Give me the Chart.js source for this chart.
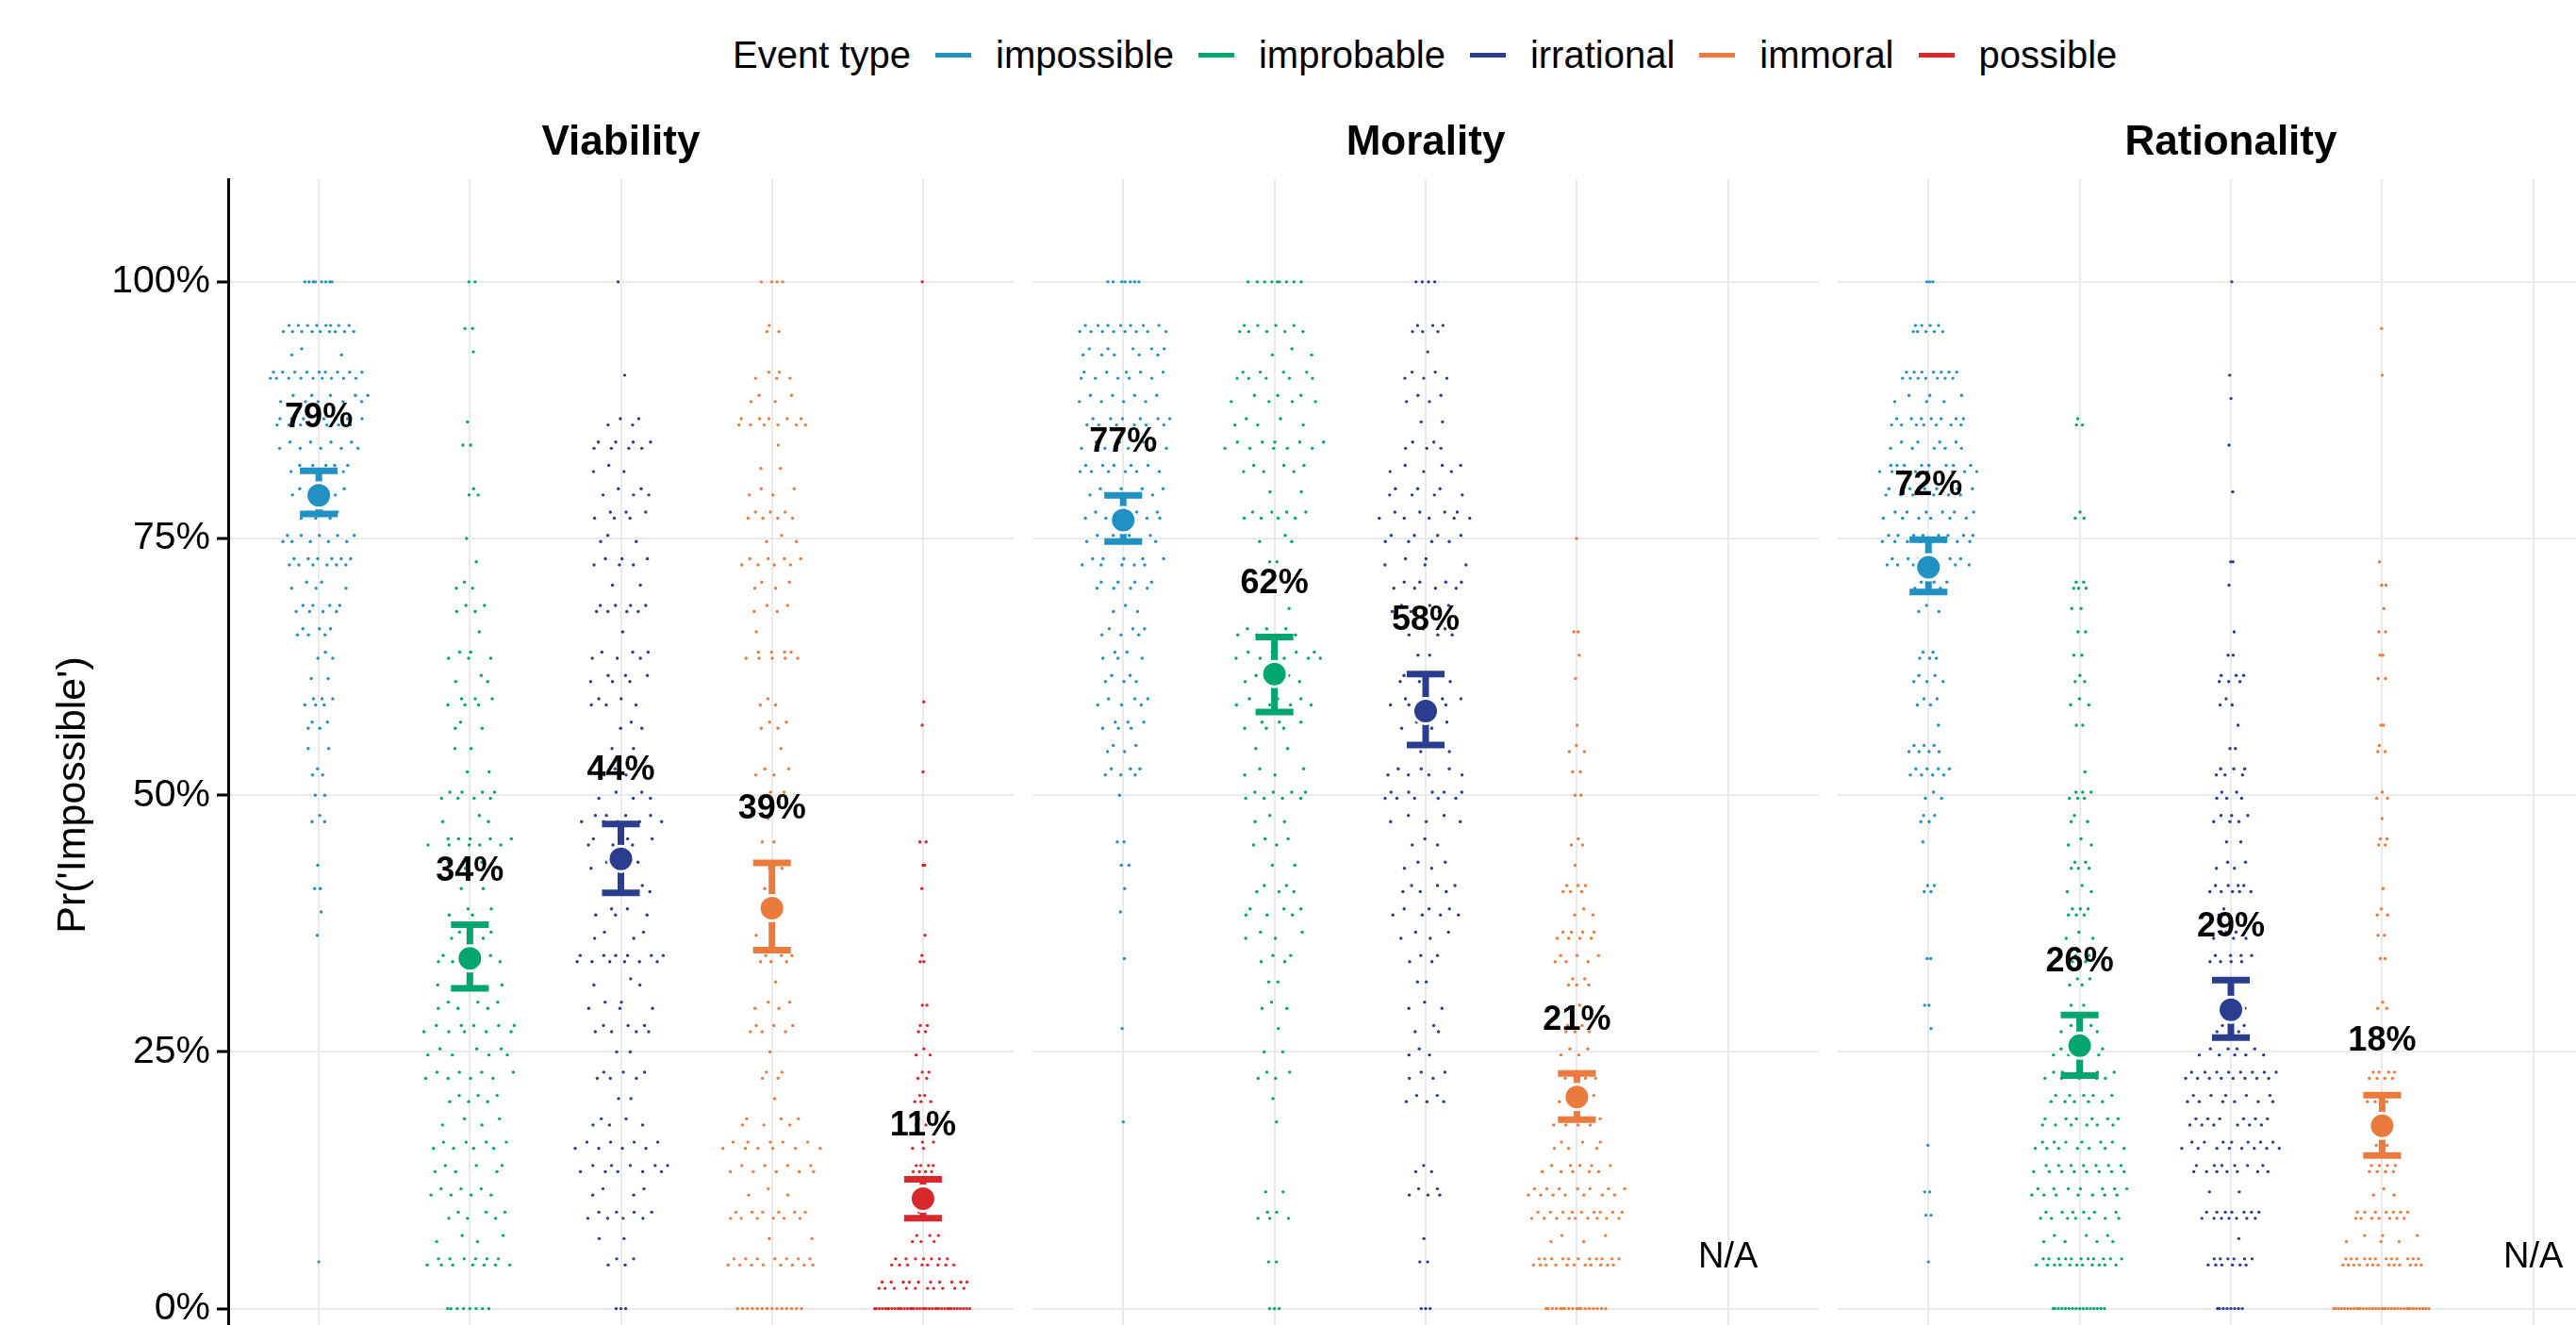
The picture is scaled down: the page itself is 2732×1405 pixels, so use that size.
<!DOCTYPE html>
<html>
<head>
<meta charset="utf-8">
<script src="https://cdn.jsdelivr.net/npm/chart.js@4.4.1/dist/chart.umd.min.js"></script>
<style>
html, body { margin: 0; padding: 0; background: #fff; overflow: hidden; width: 2732px; height: 1405px; }
.panel { position: absolute; top: 0; }
#legend { position: absolute; left: 777px; top: 36px; height: 44px; display: flex; align-items: center;
  font-family: 'Liberation Sans', Arial, Helvetica, sans-serif; font-size: 40px; color: #000; white-space: nowrap; }
.key { display: inline-block; width: 38px; height: 5px; margin: 0 26px 0 26px; }
</style>
</head>
<body>
<div id="legend"><span>Event type</span></div>
<canvas id="viability" class="panel" width="1075" height="1405" style="left:0px"></canvas>
<canvas id="morality" class="panel" width="834" height="1405" style="left:1095px"></canvas>
<canvas id="rationality" class="panel" width="834" height="1405" style="left:1949px"></canvas>
<script>
var FONT = "'Liberation Sans', Arial, Helvetica, sans-serif";

var panelNames = ["Viability", "Morality", "Rationality"];
var eventTypes = ["impossible", "improbable", "irrational", "immoral", "possible"];
var eventColors = ["#2190C3", "#00A66E", "#2B3D8F", "#EB7A3D", "#D8282B"];
var yTicks = [0, 0.25, 0.5, 0.75, 1];

// answers fall on steps of 1/44; each array counts participants per step, 0% first, 100% last
var RESPONSE_STEPS = 44;

var viabilityImpossible = [0,0,1,0,0,0,0,0,0,0, 0,0,0,0,0,0,1,1,2,1, 0,3,2,3,2,4,6,2,3,6, 8,5,12,10,6,6,10,9,14,10, 18,3,17,0,8];
var viabilityImprobable = [8,0,13,4,6,7,6,8,4,6, 8,7,10,6,3,9,4,4,2,5, 10,3,8,2,2,3,6,3,5,1, 4,3,1,1,0,3,0,2,1,0, 0,1,2,0,2];
var viabilityIrrational = [3,0,4,2,8,4,10,8,5,2, 6,2,7,5,3,12,4,5,5,4, 6,9,5,3,2,3,5,6,6,1, 8,2,6,3,6,5,3,8,4,0, 1,0,0,0,1];
var viabilityImmoral = [14,0,15,2,12,3,9,11,6,1, 4,1,6,4,1,6,2,2,1,3, 2,1,4,4,1,4,3,0,9,1, 4,4,8,3,7,4,2,1,11,4, 5,0,3,0,4];
var viabilityPossible = [38,20,15,6,3,3,8,4,4,5, 4,3,4,2,0,3,1,0,1,2, 2,0,0,1,0,1,1,0,0,0, 0,0,0,0,0,0,0,0,0,0, 0,0,0,0,1];

var moralityImpossible = [0,0,0,0,0,0,0,0,1,0, 0,0,1,0,0,1,0,1,1,2, 2,0,1,6,4,6,6,5,5,6, 3,8,10,9,9,8,11,9,12,8, 10,10,15,0,7];
var moralityImprobable = [3,0,2,0,5,2,0,0,1,1, 4,2,1,3,2,4,4,6,5,2, 4,3,8,4,2,6,7,5,9,7, 1,1,2,3,8,2,6,10,5,7, 9,3,9,0,9];
var moralityIrrational = [3,0,2,1,0,5,3,0,0,5, 4,3,3,3,2,4,4,7,6,4, 3,5,10,7,3,4,8,5,2,5, 6,8,5,8,9,7,6,5,2,4, 5,1,6,0,4];
var moralityImmoral = [18,0,22,4,18,14,10,6,8,4, 7,4,5,1,5,6,8,3,6,1, 3,0,2,2,3,1,0,1,1,2, 0,0,0,1,0,0,0,0,0,0, 0,0,0,0,0];
var moralityPossible = [];

var rationalityImpossible = [0,0,1,0,2,2,0,1,0,0, 0,0,1,2,0,2,0,0,4,0, 1,4,3,8,7,1,4,5,5,0, 3,6,13,16,12,12,17,9,14,6, 14,0,9,0,3];
var rationalityImprobable = [16,0,22,7,13,14,15,13,12,10, 10,10,5,2,4,4,3,6,3,5, 3,3,6,1,0,2,3,3,2,2, 2,5,0,0,3,0,0,0,3,0, 0,0,0,0,0];
var rationalityIrrational = [8,0,12,1,14,2,13,15,12,11, 16,9,4,5,2,8,5,3,9,4, 2,6,5,6,2,1,3,6,2,1, 0,1,2,0,0,1,0,1,0,1, 1,0,0,0,1];
var rationalityImmoral = [35,0,25,6,14,3,8,2,2,6, 8,0,1,3,0,2,2,3,1,0, 4,1,3,0,3,2,0,2,2,2, 1,2,1,0,0,0,0,0,0,0, 1,0,1,0,0];
var rationalityPossible = [];

// mean Pr('Impossible') with its interval, null = N/A
var viabilityMeans = [0.792, 0.341, 0.438, 0.390, 0.107];
var viabilityLower = [0.774, 0.312, 0.405, 0.349, 0.088];
var viabilityUpper = [0.816, 0.374, 0.472, 0.434, 0.126];

var moralityMeans = [0.768, 0.618, 0.582, 0.206, null];
var moralityLower = [0.747, 0.581, 0.549, 0.184, null];
var moralityUpper = [0.792, 0.654, 0.618, 0.229, null];

var rationalityMeans = [0.722, 0.256, 0.291, 0.178, null];
var rationalityLower = [0.698, 0.227, 0.264, 0.149, null];
var rationalityUpper = [0.749, 0.286, 0.320, 0.208, null];

Chart.defaults.font.family = FONT;

// legend
var legend = document.getElementById("legend");
eventTypes.forEach(function (name, i) {
    var key = document.createElement("span");
    key.className = "key";
    key.style.background = eventColors[i];
    legend.appendChild(key);
    var label = document.createElement("span");
    label.textContent = name;
    legend.appendChild(label);
});

function vanDerCorput(n) {
    var v = 0, base = 0.5;
    while (n > 0) {
        if (n & 1) v += base;
        base /= 2;
        n >>= 1;
    }
    return v;
}

// quasirandom layout: horizontal spread follows the density of answers,
// crowded rows get a small zigzag so neighbouring dots stay apart
var SPREAD = 0.33;
var BANDWIDTH = 0.02;
var ZIGZAG = 0.003;
function swarm(counts, cat) {
    if (!counts.length) return [];
    var dens = counts.map(function (_, k) {
        var s = 0;
        counts.forEach(function (c, j) {
            var d = (k - j) / RESPONSE_STEPS;
            s += c * Math.exp(-d * d / (2 * BANDWIDTH * BANDWIDTH));
        });
        return s;
    });
    var maxD = Math.max.apply(null, dens);
    var pts = [];
    var rank = 0;
    counts.forEach(function (c, k) {
        var row = [];
        for (var m = 0; m < c; m++) {
            rank++;
            row.push((2 * vanDerCorput(rank) - 1) * SPREAD * dens[k] / maxD);
        }
        row.sort(function (a, b) { return a - b; });
        var edge = (k === 0 || k === RESPONSE_STEPS || c < 3);
        row.forEach(function (off, m) {
            var nudge = edge ? 0 : (m % 2 ? ZIGZAG : -ZIGZAG);
            pts.push({ x: cat + off, y: k / RESPONSE_STEPS + nudge });
        });
    });
    return pts;
}

var meanLabels = {
    id: "meanLabels",
    afterDatasetsDraw: function (chart, args, opts) {
        var ctx = chart.ctx, x = chart.scales.x, y = chart.scales.y;
        ctx.save();
        ctx.textAlign = "center";
        ctx.textBaseline = "middle";
        ctx.fillStyle = "#000";
        opts.means.forEach(function (m, i) {
            if (m == null) {
                ctx.font = "38px " + FONT;
                ctx.fillText("N/A", x.getPixelForValue(i), y.getPixelForValue(0.05));
            } else {
                ctx.font = "bold 36px " + FONT;
                ctx.fillText(Math.round(m * 100) + "%", x.getPixelForValue(i), y.getPixelForValue(opts.upper[i] + 0.052));
            }
        });
        ctx.restore();
    }
};

var yTitle = {
    id: "yTitle",
    afterDraw: function (chart, args, opts) {
        if (!opts.text) return;
        var ctx = chart.ctx;
        ctx.save();
        ctx.translate(78, 843);
        ctx.rotate(-Math.PI / 2);
        ctx.textAlign = "center";
        ctx.textBaseline = "middle";
        ctx.fillStyle = "#000";
        ctx.font = "43px " + FONT;
        ctx.fillText(opts.text, 0, 0);
        ctx.restore();
    }
};

function buildPanel(id, title, groups, means, lower, upper, withAxis) {
    var datasets = [];
    var c = 0.125;

    var meanData = [], meanColors = [];
    means.forEach(function (m, i) {
        if (m == null) return;
        meanData.push({ x: i, y: m });
        meanColors.push(eventColors[i]);
    });
    datasets.push({
        data: meanData,
        pointRadius: 13.5,
        pointBackgroundColor: meanColors,
        pointBorderColor: "#fff",
        pointBorderWidth: 3,
        order: 1
    });

    means.forEach(function (m, i) {
        if (m == null) return;
        datasets.push({
            data: [
                { x: i - c, y: upper[i] }, { x: i + c, y: upper[i] }, { x: i, y: null },
                { x: i, y: upper[i] }, { x: i, y: lower[i] }, { x: i, y: null },
                { x: i - c, y: lower[i] }, { x: i + c, y: lower[i] }
            ],
            showLine: true,
            borderColor: eventColors[i],
            borderWidth: 7,
            borderCapStyle: "butt",
            pointRadius: 0,
            order: 2
        });
    });

    groups.forEach(function (counts, i) {
        datasets.push({
            data: swarm(counts, i),
            pointRadius: 1.7,
            pointBackgroundColor: eventColors[i],
            pointBorderWidth: 0,
            order: 3
        });
    });

    new Chart(id, {
        type: "scatter",
        data: { datasets: datasets },
        options: {
            responsive: false,
            animation: false,
            events: [],
            layout: { padding: 0, autoPadding: false },
            plugins: {
                legend: { display: false },
                tooltip: { enabled: false },
                title: {
                    display: true,
                    text: title,
                    fullSize: false,
                    color: "#000",
                    font: { size: 44, weight: "bold", lineHeight: 1.2 },
                    padding: { top: 125.6, bottom: 11.6 }
                },
                meanLabels: { means: means, upper: upper },
                yTitle: { text: withAxis ? "Pr('Impossible')" : "" }
            },
            scales: {
                x: {
                    type: "linear",
                    min: -0.6,
                    max: 4.6,
                    afterBuildTicks: function (s) {
                        s.ticks = eventTypes.map(function (_, i) { return { value: i }; });
                    },
                    afterFit: function (s) { s.height = 0; },
                    ticks: { display: false },
                    border: { display: false },
                    grid: { color: "#EBEBEB", lineWidth: 2, drawTicks: false }
                },
                y: {
                    min: -0.016,
                    max: 1.1,
                    afterBuildTicks: function (s) {
                        s.ticks = yTicks.map(function (v) { return { value: v }; });
                    },
                    afterFit: function (s) {
                        s.width = withAxis ? 242 : 0;
                        s.paddingTop = 0;
                        s.paddingBottom = 0;
                    },
                    ticks: {
                        display: withAxis,
                        color: "#000",
                        padding: 7,
                        font: { size: 41 },
                        callback: function (v) { return Math.round(v * 100) + "%"; }
                    },
                    border: { display: withAxis, color: "#000", width: 3 },
                    grid: {
                        color: "#EBEBEB",
                        lineWidth: 2,
                        drawTicks: withAxis,
                        tickLength: 12,
                        tickColor: "#000",
                        tickWidth: 3
                    }
                }
            }
        },
        plugins: [meanLabels, yTitle]
    });
}

buildPanel("viability", panelNames[0],
    [viabilityImpossible, viabilityImprobable, viabilityIrrational, viabilityImmoral, viabilityPossible],
    viabilityMeans, viabilityLower, viabilityUpper, true);
buildPanel("morality", panelNames[1],
    [moralityImpossible, moralityImprobable, moralityIrrational, moralityImmoral, moralityPossible],
    moralityMeans, moralityLower, moralityUpper, false);
buildPanel("rationality", panelNames[2],
    [rationalityImpossible, rationalityImprobable, rationalityIrrational, rationalityImmoral, rationalityPossible],
    rationalityMeans, rationalityLower, rationalityUpper, false);
</script>
</body>
</html>
